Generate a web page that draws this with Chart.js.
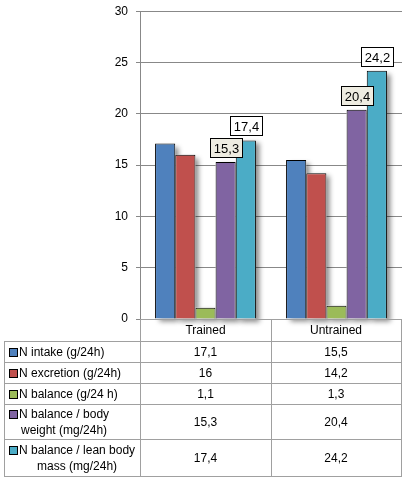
<!DOCTYPE html>
<html>
<head>
<meta charset="utf-8">
<script src="https://cdn.jsdelivr.net/npm/chart.js@4.4.1/dist/chart.umd.min.js"></script>
<style>
  html, body { margin: 0; padding: 0; background: #fff; overflow: hidden; }
  canvas { display: block; margin-top: -4px; }
</style>
</head>
<body>
<canvas id="myChart" width="406" height="483"></canvas>
<script>
// data
var categories = ['Trained', 'Untrained'];
var seriesNames = [
    ['N intake (g/24h)'],
    ['N excretion (g/24h)'],
    ['N balance (g/24 h)'],
    ['N balance / body', 'weight (mg/24h)'],
    ['N balance / lean body', 'mass (mg/24h)']
];
var intake = [17.1, 15.5];
var excretion = [16, 14.2];
var balance = [1.1, 1.3];
var balanceBody = [15.3, 20.4];
var balanceLean = [17.4, 24.2];
var yTicks = [0, 5, 10, 15, 20, 25, 30];

var seriesValues = [intake, excretion, balance, balanceBody, balanceLean];
var colors = ['#4F81BD', '#C0504D', '#9BBB59', '#8064A2', '#4BACC6'];
var labelled = [false, false, false, true, true];
var labelBg = ['#fff', '#fff', '#fff', '#EEECE1', '#fff'];

var FONT = '"Liberation Sans", Arial, sans-serif';
var fmt = function(v) { return String(v).replace('.', ','); };

// table row heights (header + one per series)
var rowHeights = [22, 21, 21, 21, 35, 37];
var tableLeft = 4;

// draw bars left to right (first series at the bottom) with a soft shadow
var shadowPlugin = {
    id: 'barShadow',
    beforeDatasetsDraw: function(chart) {
        var c = chart.ctx;
        for (var i = 0; i < chart.data.datasets.length; i++) {
            c.save();
            c.shadowColor = 'rgba(0,0,0,0.45)';
            c.shadowBlur = 5;
            c.shadowOffsetX = 4;
            c.shadowOffsetY = 3;
            chart.getDatasetMeta(i).data.forEach(function(bar) {
                var half = bar.width / 2;
                c.fillStyle = '#fff';
                c.fillRect(bar.x - half, bar.y, bar.width, bar.base - bar.y);
            });
            c.restore();
            chart.getDatasetMeta(i).controller.draw();
        }
        return false;
    }
};

var labelPlugin = {
    id: 'boxLabels',
    afterDraw: function(chart) {
        var c = chart.ctx;
        c.save();
        c.font = '13px ' + FONT;
        c.textAlign = 'center';
        c.textBaseline = 'middle';
        chart.data.datasets.forEach(function(ds, i) {
            if (!labelled[i]) return;
            chart.getDatasetMeta(i).data.forEach(function(bar, j) {
                var txt = fmt(ds.data[j]);
                var w = 32, h = 19;
                var x = Math.round(bar.x - w / 2) + 0.5;
                var y = Math.round(bar.y - 5 - h) + 0.5;
                c.fillStyle = labelBg[i];
                c.fillRect(x, y, w, h);
                c.strokeStyle = '#000';
                c.lineWidth = 1;
                c.strokeRect(x, y, w, h);
                c.fillStyle = '#000';
                c.fillText(txt, x + w / 2, y + h / 2 + 1);
            });
        });
        c.restore();
    }
};

var tablePlugin = {
    id: 'dataTable',
    afterDraw: function(chart) {
        var c = chart.ctx;
        var area = chart.chartArea;
        var xs = chart.scales.x;
        var left = Math.round(area.left), right = Math.round(area.right) - 1;
        var mid = Math.round((xs.getPixelForValue(0) + xs.getPixelForValue(1)) / 2);
        var top = Math.round(area.bottom);
        c.save();
        c.strokeStyle = '#A0A0A0';
        c.lineWidth = 1;
        c.font = '12px ' + FONT;
        c.textBaseline = 'middle';

        var ys = [top];
        rowHeights.forEach(function(h) { ys.push(ys[ys.length - 1] + h); });
        var bottom = ys[ys.length - 1];

        c.beginPath();
        c.moveTo(left + 0.5, top); c.lineTo(left + 0.5, bottom + 0.5);
        c.moveTo(mid + 0.5, top); c.lineTo(mid + 0.5, bottom + 0.5);
        c.moveTo(right + 0.5, top); c.lineTo(right + 0.5, bottom + 0.5);
        c.moveTo(tableLeft + 0.5, ys[1]); c.lineTo(tableLeft + 0.5, bottom + 0.5);
        c.moveTo(left, top + 0.5); c.lineTo(right + 1, top + 0.5);
        for (var r = 1; r < ys.length; r++) {
            c.moveTo(tableLeft, ys[r] + 0.5); c.lineTo(right + 1, ys[r] + 0.5);
        }
        c.stroke();

        c.fillStyle = '#000';
        c.textAlign = 'center';
        var centers = [(left + mid) / 2, (mid + right) / 2];
        categories.forEach(function(cat, j) {
            c.fillText(cat, centers[j], (ys[0] + ys[1]) / 2 + 1);
        });

        seriesNames.forEach(function(lines, i) {
            var y0 = ys[i + 1], y1 = ys[i + 2];
            var lh = 16;
            var blockTop = (y0 + y1) / 2 - lines.length * lh / 2;
            var maxW = 0;
            lines.forEach(function(l) { maxW = Math.max(maxW, c.measureText(l).width); });
            c.textAlign = 'left';
            lines.forEach(function(l, k) {
                var w = c.measureText(l).width;
                c.fillStyle = '#000';
                c.fillText(l, 19 + (maxW - w) / 2, blockTop + lh * k + lh / 2 + 1);
            });
            var ky = Math.round(blockTop + lh / 2 - 4) + 0.5;
            c.fillStyle = colors[i];
            c.fillRect(9.5, ky, 8, 8);
            c.strokeStyle = '#000';
            c.strokeRect(9.5, ky, 8, 8);
            c.textAlign = 'center';
            c.fillStyle = '#000';
            seriesValues[i].forEach(function(v, j) {
                c.fillText(fmt(v), centers[j], (y0 + y1) / 2 + 1);
            });
        });
        c.restore();
    }
};

var ctx = document.getElementById('myChart');
new Chart(ctx, {
    type: 'bar',
    data: {
        labels: categories,
        datasets: seriesValues.map(function(vals, i) {
            return {
                label: seriesNames[i].join(' '),
                data: vals,
                backgroundColor: colors[i],
                borderColor: '#000',
                borderWidth: 1,
                borderSkipped: 'bottom',
                categoryPercentage: 0.77,
                barPercentage: 1
            };
        })
    },
    options: {
        responsive: false,
        animation: false,
        devicePixelRatio: 1,
        layout: { padding: { left: 0, right: 4, top: 0, bottom: 160 } },
        plugins: { legend: { display: false }, tooltip: { enabled: false } },
        scales: {
            x: {
                display: false
            },
            y: {
                min: 0,
                max: 30,
                afterBuildTicks: function(scale) {
                    scale.ticks = yTicks.map(function(v) { return { value: v }; });
                },
                afterFit: function(scale) { scale.width = 140; },
                border: { display: true, color: '#888888', width: 1 },
                grid: { color: '#888888', lineWidth: 1, tickLength: 4, drawTicks: true },
                ticks: {
                    color: '#000',
                    font: { family: FONT, size: 12 },
                    padding: 8
                }
            }
        }
    },
    plugins: [shadowPlugin, labelPlugin, tablePlugin]
});
</script>
</body>
</html>
